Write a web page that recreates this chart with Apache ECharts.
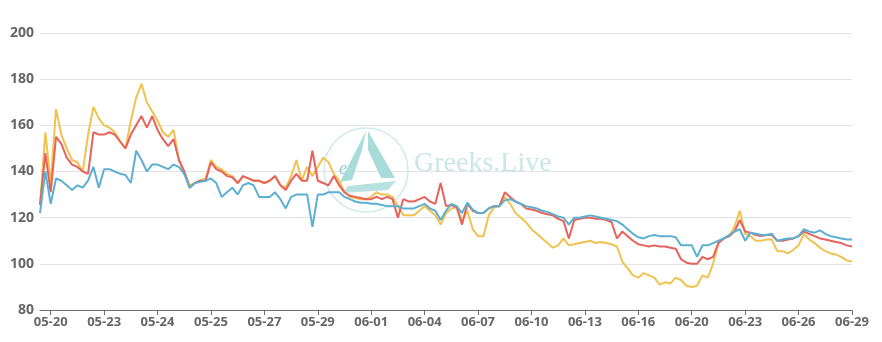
<!DOCTYPE html>
<html>
<head>
<meta charset="utf-8">
<script src="https://cdn.jsdelivr.net/npm/echarts@6/dist/echarts.min.js"></script>
<style>html,body{margin:0;padding:0;background:#fff}#c{width:882px;height:342px}</style>
</head>
<body>
<div id="c"></div>
<script>
const tickLabels = ['05-20','05-23','05-24','05-25','05-27','05-29','06-01','06-04','06-07','06-10','06-13','06-16','06-20','06-23','06-26','06-29'];
const yTicks = [80, 100, 120, 140, 160, 180, 200];

const yellowSeries = [
125.5,157,135,167,156,150,145,144,140,156,168,163,160,159,157,153,150,162,172,178,170,166,162,157,155,158,145,140,134,135,136,137,145,142,141,139,138,135,138,
137,136,136,135,136,138,134,133,138,145,136,142,138,142,146,144,139,136,131,129,128.5,128,128,129,131,130,130,129,125,121,121,121,123,125,123,121,117,122,
124,124.5,118.5,123,115,112,112,121,124.5,125,129,126,122,120,118,115,113,111,109,107,108,111,108,108.5,109,109.5,110,109,109.5,109,108.5,107.5,101,98,95,94,96,95,
94,91,92,91.5,94,93,90.5,90,90.5,95,94,100,109,111,112,116,123,113,112,110,110,110.5,110.5,105.5,105.5,104.5,106,108,113,110.5,109,107,105.5,104.5,104,103,101.5,101
];
const redSeries = [
125.5,148,131,155,152,146,143,142,140,139,157,156,156,157,156,153,150,156,160,164,159,164,158,154,151,154,145,140,133,135,136,136,144,141,140,138,137.5,135,138,
137,136,136,135,136,138,134,132,136,139,136,136,149,136,135,134,138,134,131,129.5,129,128.5,128,128,129,128,129,128,120,128,127,127,128,129,127,126,135,125,
125.5,124.5,117,126,123,122,122,124,125,125,131,129,127,126,124,123.5,123,122,121.5,121,119.5,118.5,111,119,119.5,120,120,119.5,119.5,119,118,111,114,112,110,108.5,108,107.5,
108,107.5,107.5,107,106.5,102,100.5,100,100,103,102,103,109,111,112,114,119,114,113.5,112.5,112,112.5,112.5,110,110,110.5,111,112,114,113,112,111,110.5,110,109.5,109,108,107.5
];
const blueSeries = [
122,140,126,137,136,134,132,134,133,136,142,133,141,141,140,139,138.5,135,149,145,140,143,143,142,141,143,142,139,133,135,135.5,136,137,135,129,131,133,130,134,
135,134,129,129,129,131,128,124,129,130,130,130,116,130,130,131,131,131,129,128,127,126.5,126.5,126,126,125.5,125,125,125,124,124,124,125,126,124,123,119,123,
126,125,122,126.5,123.5,122,122,124,125,125,127.5,128,127,126,125,124.5,124,123,122.5,121.5,120.5,120,117,120,120,120.5,121,120.5,120,119.5,119,118.5,117,115,113,111.5,111,112,
112.5,112,112,112,111.5,108,108,108,103,108,108,109,110,111,112.5,114,115,110,113.5,113,112.5,112.5,113,110,110.5,111,111,112,115,114,113.5,114.5,113,112,111.5,111,110.5,110.5
];

const STEP = 10, OFFSET = 2;
const categories = yellowSeries.map((_, i) =>
  ((i - OFFSET) % STEP === 0 && i >= OFFSET) ? tickLabels[(i - OFFSET) / STEP] : String(i));
const showTick = (i) => i >= OFFSET && (i - OFFSET) % STEP === 0;

const chart = echarts.init(document.getElementById('c'));
chart.setOption({
  animation: false,
  grid: { left: 40, right: 30, top: 33, bottom: 32 },
  xAxis: {
    type: 'category',
    data: categories,
    boundaryGap: false,
    axisLine: { lineStyle: { color: '#6e6e6e', width: 1 } },
    axisTick: { interval: (i) => showTick(i), length: 5, lineStyle: { color: '#6e6e6e' } },
    axisLabel: {
      interval: (i) => showTick(i),
      color: '#666', fontSize: 13, fontWeight: 'bold', fontFamily: 'Open Sans', margin: 6
    },
    splitLine: { show: false }
  },
  yAxis: {
    type: 'value',
    min: yTicks[0], max: yTicks[yTicks.length - 1], interval: 20,
    axisLine: { show: false },
    axisTick: { show: false },
    axisLabel: { color: '#666', fontSize: 14, fontWeight: 'bold', fontFamily: 'Open Sans', margin: 6 },
    splitLine: { lineStyle: { color: '#e3e3e3', width: 1 } }
  },
  graphic: [
    { type: 'circle', z: 1, shape: { cx: 366, cy: 170, r: 42 }, style: { fill: 'none', stroke: '#cfeaea', lineWidth: 1.5 } },
    { type: 'polygon', z: 1, shape: { points: [[366,131],[340,182],[352,180],[362,150]] }, style: { fill: '#a9dcd8' } },
    { type: 'polygon', z: 1, shape: { points: [[368,131],[395,178],[381,178],[368,150]] }, style: { fill: '#a9dcd8' } },
    { type: 'polygon', z: 1, shape: { points: [[348,186],[396,181],[388,190],[343,193]] }, style: { fill: '#b7e2df' } },
    { type: 'text', z: 1, left: 339, top: 160, style: { text: 'e', font: 'italic 18px "Liberation Serif"', fill: '#8ccfcb' } },
    { type: 'text', z: 1, left: 414, top: 150, style: { text: 'Greeks.Live', font: '28px "Liberation Serif"', fill: '#c8e7e5' } }
  ],
  series: [
    { type: 'line', data: yellowSeries, showSymbol: false, lineStyle: { color: '#f0c24f', width: 2 }, itemStyle: { color: '#f0c24f' }, z: 2 },
    { type: 'line', data: redSeries, showSymbol: false, lineStyle: { color: '#e8625c', width: 2 }, itemStyle: { color: '#e8625c' }, z: 3 },
    { type: 'line', data: blueSeries, showSymbol: false, lineStyle: { color: '#5bb0d2', width: 2 }, itemStyle: { color: '#5bb0d2' }, z: 4 }
  ]
});
</script>
</body>
</html>
